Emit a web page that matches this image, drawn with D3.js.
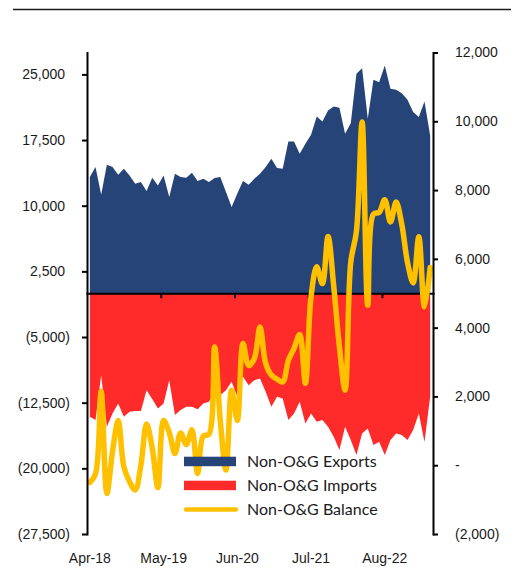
<!DOCTYPE html>
<html>
<head>
<meta charset="utf-8">
<script src="https://cdn.jsdelivr.net/npm/d3@7"></script>
<style>
  body { margin: 0; background: #fff; }
  svg { display: block; font-family: Lato, "Open Sans", sans-serif; }
</style>
</head>
<body>
<svg id="chart" width="517" height="568"></svg>
<script>
// Monthly non-oil & gas trade, Apr-18 .. Apr-23
const months = [
  "Apr-18","May-18","Jun-18","Jul-18","Aug-18","Sep-18","Oct-18","Nov-18","Dec-18",
  "Jan-19","Feb-19","Mar-19","Apr-19","May-19","Jun-19","Jul-19","Aug-19","Sep-19","Oct-19","Nov-19","Dec-19",
  "Jan-20","Feb-20","Mar-20","Apr-20","May-20","Jun-20","Jul-20","Aug-20","Sep-20","Oct-20","Nov-20","Dec-20",
  "Jan-21","Feb-21","Mar-21","Apr-21","May-21","Jun-21","Jul-21","Aug-21","Sep-21","Oct-21","Nov-21","Dec-21",
  "Jan-22","Feb-22","Mar-22","Apr-22","May-22","Jun-22","Jul-22","Aug-22","Sep-22","Oct-22","Nov-22","Dec-22",
  "Jan-23","Feb-23","Mar-23","Apr-23"
];
const labelMonths = ["Apr-18","May-19","Jun-20","Jul-21","Aug-22"];

// Exports and imports (left axis)
const exportsVal = [
  13270,14410,11260,14680,14410,13540,14230,13460,12510,12700,11670,13200,12320,13460,10990,
  13650,13270,13200,13770,12810,13090,12700,13160,13270,11560,9850,11380,12810,12400,13090,
  13660,14410,15370,14300,14230,17340,17340,15940,17080,18110,20200,19630,20880,21340,21190,
  18220,19430,25070,25710,19930,24380,24110,26010,23360,23240,22850,22100,20690,20120,21910,18030
];
const importsVal = [
  -14110,-14490,-9360,-15250,-13730,-12590,-14110,-13540,-13460,-13460,-11070,-12090,-13160,-12590,-9930,
  -13920,-13350,-12970,-12970,-13240,-12590,-12400,-11260,-11640,-11070,-10120,-11830,-9550,-10500,-9930,
  -9740,-11260,-12970,-11830,-12020,-14490,-13730,-12400,-14870,-13730,-14680,-14490,-15250,-16400,-17910,
  -15250,-16770,-18480,-16010,-15440,-17340,-16960,-18480,-16770,-16010,-16200,-16770,-15630,-13730,-17000,-11830
];
// Balance (right axis)
const balanceVal = [
  -500,-250,2150,-820,400,1300,-50,-480,-720,0,1200,500,-650,1300,950,
  340,940,600,1030,-240,850,900,3440,1300,-140,2180,1300,3540,2900,3100,
  4020,2960,2620,2500,2420,3050,3400,3800,2380,4900,5770,5280,6650,5200,3440,
  2180,5900,6800,9980,4650,7300,7350,7720,7070,7650,7000,5900,5300,6640,4600,5750
];

const leftTicks  = [-27500,-20000,-12500,-5000,2500,10000,17500,25000];
const rightTicks = [-2000,0,2000,4000,6000,8000,10000,12000];

const C_EXP = "#264478", C_IMP = "#FF2A2A", C_BAL = "#FFC000", INK = "#1a1a1a";

const svg = d3.select("#chart");
const plot = { left: 87, right: 433, top: 52.5, bottom: 534 };

const x = d3.scaleBand().domain(months).range([plot.left, plot.right]).padding(0);
const cx = m => x(m) + x.bandwidth() / 2;
const xEdge = d3.scaleLinear().domain([0, months.length]).range([plot.left, plot.right]);
const yL = d3.scaleLinear().domain([-27500, 27500]).range([plot.bottom, plot.top]);
const yR = d3.scaleLinear().domain([-2000, 12000]).range([plot.bottom, plot.top]);

const rows = months.map((m, i) => ({ m, e: exportsVal[i], im: importsVal[i], b: balanceVal[i] }));

// rule across the top
svg.append("line")
  .attr("x1", 13).attr("x2", 511).attr("y1", 9.5).attr("y2", 9.5)
  .attr("stroke", INK).attr("stroke-width", 1.5);

// areas drawn from zero
svg.append("path").datum(rows)
  .attr("fill", C_EXP)
  .attr("d", d3.area().x(d => cx(d.m)).y0(yL(0)).y1(d => yL(d.e)));
svg.append("path").datum(rows)
  .attr("fill", C_IMP)
  .attr("d", d3.area().x(d => cx(d.m)).y0(yL(0)).y1(d => yL(d.im)));

// category axis on the zero line, ticks between categories
const zeroAxis = svg.append("g")
  .attr("transform", `translate(0,${yL(0)})`)
  .call(d3.axisBottom(xEdge)
    .tickValues(labelMonths.map(m => months.indexOf(m)).filter(i => i > 0))
    .tickSize(5).tickSizeOuter(0).tickFormat(""));
zeroAxis.selectAll("path,line").attr("stroke", "#000").attr("stroke-width", 2);

// balance line
svg.append("path").datum(rows)
  .attr("fill", "none")
  .attr("stroke", C_BAL)
  .attr("stroke-width", 5.5)
  .attr("stroke-linejoin", "round")
  .attr("stroke-linecap", "round")
  .attr("d", d3.line().curve(d3.curveCatmullRom).x(d => cx(d.m)).y(d => yR(d.b)));

// month labels at the bottom
const xLab = svg.append("g")
  .attr("transform", `translate(0,550)`)
  .call(d3.axisBottom(x).tickValues(labelMonths).tickSize(0).tickPadding(3));
xLab.select(".domain").remove();
xLab.selectAll("text").attr("font-size", 14).attr("fill", INK).attr("font-family", null);

const fmt = d3.format(",");
// left axis
const lAx = svg.append("g")
  .attr("transform", `translate(${plot.left},0)`)
  .call(d3.axisLeft(yL).tickValues(leftTicks).tickSize(5).tickSizeOuter(0).tickPadding(12)
    .tickFormat(v => v < 0 ? `(${fmt(-v)})` : fmt(v)));
lAx.selectAll("path,line").attr("stroke", "#000").attr("stroke-width", 2);
lAx.selectAll("text").attr("font-size", 14).attr("fill", INK).attr("font-family", null)
  .attr("dx", v => v < 0 ? 0 : -5);

// right axis
const rAx = svg.append("g")
  .attr("transform", `translate(${plot.right},0)`)
  .call(d3.axisRight(yR).tickValues(rightTicks).tickSize(5).tickSizeOuter(0).tickPadding(17)
    .tickFormat(v => v === 0 ? "-" : v < 0 ? `(${fmt(-v)})` : fmt(v)));
rAx.selectAll("path,line").attr("stroke", "#000").attr("stroke-width", 2);
rAx.selectAll("text").attr("font-size", 14).attr("fill", INK).attr("font-family", null);
svg.selectAll(".domain").attr("stroke-linecap", "square");

// legend
const legend = [
  { name: "Non-O&G Exports", kind: "rect", color: C_EXP },
  { name: "Non-O&G Imports", kind: "rect", color: C_IMP },
  { name: "Non-O&G Balance", kind: "line", color: C_BAL }
];
const lg = svg.append("g").attr("transform", "translate(184,461.5)");
legend.forEach((d, i) => {
  const g = lg.append("g").attr("transform", `translate(0,${i * 24})`);
  if (d.kind === "rect") {
    g.append("rect").attr("x", 0).attr("y", -4.8).attr("width", 52).attr("height", 9.5).attr("fill", d.color);
  } else {
    g.append("line").attr("x1", 2).attr("x2", 52).attr("y1", 0).attr("y2", 0)
      .attr("stroke", d.color).attr("stroke-width", 4.5).attr("stroke-linecap", "round");
  }
  g.append("text").attr("x", 63).attr("y", 0).attr("dy", "0.35em")
    .attr("font-size", 16).attr("fill", INK).text(d.name);
});
</script>
</body>
</html>
